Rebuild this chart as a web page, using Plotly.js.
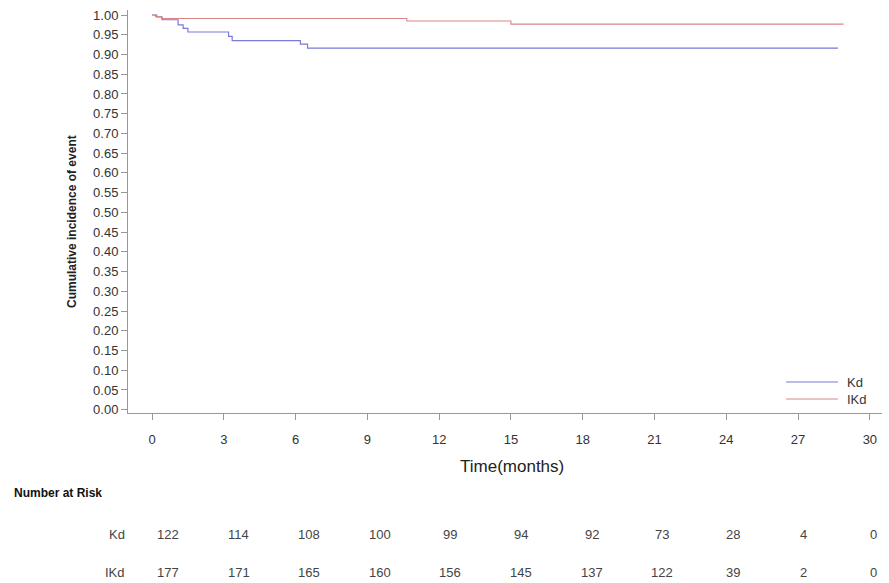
<!DOCTYPE html>
<html>
<head>
<meta charset="utf-8">
<script src="https://cdn.plot.ly/plotly-3.0.1.min.js"></script>
<style>html,body{margin:0;padding:0;background:#fff;}#chart{width:889px;height:583px;}</style>
</head>
<body>
<div id="chart"></div>
<script>
// ---- data ----
var kdTime = [0, 0.2, 0.42, 1.09, 1.3, 1.5, 3.2, 3.35, 6.2, 6.5, 28.67];
var kdValue = [1.0, 0.995, 0.988, 0.975, 0.966, 0.957, 0.946, 0.935, 0.926, 0.916, 0.916];
var ikdTime = [0, 0.15, 0.4, 10.65, 15.0, 28.9];
var ikdValue = [1.0, 0.996, 0.991, 0.985, 0.977, 0.977];
var groupNames = ["Kd", "IKd"];
var riskTimes = [0, 3, 6, 9, 12, 15, 18, 21, 24, 27, 30];
var riskKd = [122, 114, 108, 100, 99, 94, 92, 73, 28, 4, 0];
var riskIKd = [177, 171, 165, 160, 156, 145, 137, 122, 39, 2, 0];
var xTitle = "Time(months)";
var yTitle = "Cumulative incidence of event";
var riskTitle = "Number at Risk";

// ---- styling / layout constants ----
var colors = ["#7a7ad8", "#d98585"];
var fontFam = "Liberation Sans, Arial, sans-serif";
var L = 128, R = 7, T = 10, B = 170, W = 889, H = 583;
var pw = W - L - R, ph = H - T - B;
function px2paperX(p){ return (p - L) / pw; }
function px2paperY(p){ return (H - B - p) / ph; }
// risk table column mapping (its own scale): px = 168 + 23.53*t ; data x = (px-152)/23.93
function riskX(t){ return ((168 + 23.53 * t) - 152) / 23.93; }

var traces = [
  {x: kdTime, y: kdValue, type: "scatter", mode: "lines", line: {shape: "hv", color: colors[0], width: 1.2}, name: groupNames[0], showlegend: false, hoverinfo: "skip"},
  {x: ikdTime, y: ikdValue, type: "scatter", mode: "lines", line: {shape: "hv", color: colors[1], width: 1.1}, name: groupNames[1], showlegend: false, hoverinfo: "skip"}
];

var ann = [];
var shapes = [];
// axis titles
ann.push({text: xTitle, xref: "paper", yref: "paper", x: px2paperX(512), y: px2paperY(466), showarrow: false, font: {family: fontFam, size: 17, color: "#222"}, xanchor: "center", yanchor: "middle"});
ann.push({text: "<b>" + yTitle + "</b>", xref: "paper", yref: "paper", x: px2paperX(72), y: px2paperY(222), showarrow: false, textangle: -90, font: {family: fontFam, size: 12, color: "#222"}, xanchor: "center", yanchor: "middle"});
// legend
var legY = [382, 399];
for (var g = 0; g < 2; g++) {
  shapes.push({type: "line", xref: "paper", yref: "paper", x0: px2paperX(786), x1: px2paperX(838), y0: px2paperY(legY[g]), y1: px2paperY(legY[g]), line: {color: colors[g], width: 1.1}});
  ann.push({text: groupNames[g], xref: "paper", yref: "paper", x: px2paperX(845), y: px2paperY(legY[g]), showarrow: false, xanchor: "left", yanchor: "middle", font: {family: fontFam, size: 13, color: "#333"}});
}
// risk table
ann.push({text: "<b>" + riskTitle + "</b>", xref: "paper", yref: "paper", x: px2paperX(12), y: px2paperY(493), showarrow: false, xanchor: "left", yanchor: "middle", font: {family: fontFam, size: 12, color: "#111"}});
var rowY = [534, 572];
var rows = [riskKd, riskIKd];
for (var r = 0; r < 2; r++) {
  ann.push({text: groupNames[r], xref: "paper", yref: "paper", x: px2paperX(127), y: px2paperY(rowY[r]), showarrow: false, xanchor: "right", yanchor: "middle", font: {family: fontFam, size: 13, color: "#444"}});
  for (var i = 0; i < riskTimes.length; i++) {
    ann.push({text: String(rows[r][i]), xref: "x", yref: "paper", x: riskX(riskTimes[i]), y: px2paperY(rowY[r]), showarrow: false, xanchor: "center", yanchor: "middle", font: {family: fontFam, size: 13, color: "#444"}});
  }
}

var layout = {
  width: W, height: H,
  margin: {l: L, r: R, t: T, b: B, pad: 0},
  paper_bgcolor: "#fff", plot_bgcolor: "#fff",
  showlegend: false,
  xaxis: {range: [-1.003, 30.507], tickmode: "array", tickvals: riskTimes, ticktext: riskTimes.map(String), showline: true, linecolor: "#999", linewidth: 1, ticks: "outside", ticklen: 6, tickcolor: "#999", showgrid: false, zeroline: false, tickfont: {family: fontFam, size: 13, color: "#333"}, ticklabelstandoff: 8, fixedrange: true},
  yaxis: {range: [-0.0084, 1.0127], dtick: 0.05, tick0: 0, tickformat: ".2f", showline: true, linecolor: "#999", linewidth: 1, ticks: "outside", ticklen: 6, tickcolor: "#999", showgrid: false, zeroline: false, tickfont: {family: fontFam, size: 13, color: "#333"}, fixedrange: true},
  annotations: ann,
  shapes: shapes
};

Plotly.newPlot("chart", traces, layout, {staticPlot: true, displayModeBar: false});
</script>
</body>
</html>
